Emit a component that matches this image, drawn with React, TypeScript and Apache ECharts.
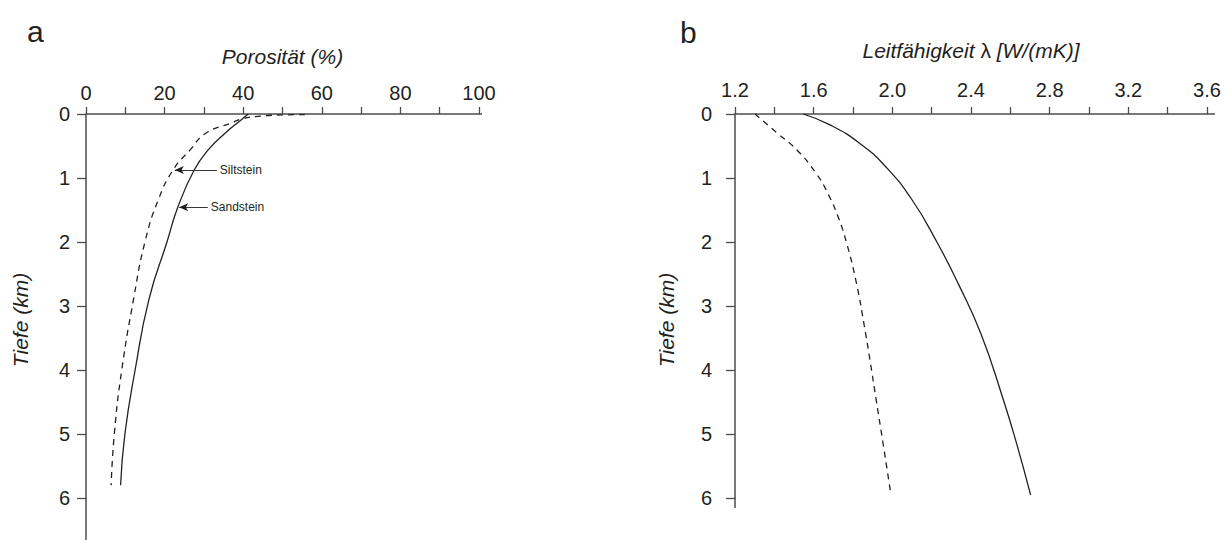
import React, { useEffect, useRef } from 'react';
import * as echarts from 'echarts';

// ---- Panel a: porosity vs depth ----
const sandPorosity = [41.3, 39.3, 35.4, 31.1, 27.5, 23.4, 20.6, 16.0, 12.5, 9.9, 8.8];
const sandDepthA = [0, 0.1, 0.3, 0.56, 0.88, 1.45, 2.0, 2.9, 4.0, 5.0, 5.8];
const siltPorosity = [55.7, 50, 45, 40, 37, 30.5, 26.5, 22.2, 18.4, 15.0, 12.2, 9.1, 7.2, 6.4];
const siltDepthA = [0.01, 0.015, 0.03, 0.07, 0.14, 0.3, 0.56, 0.87, 1.34, 2.0, 2.86, 4.0, 5.0, 5.8];

// ---- Panel b: thermal conductivity vs depth ----
const sandConductivity = [1.547, 1.683, 1.835, 1.965, 2.1, 2.23, 2.335, 2.45, 2.564, 2.632, 2.703];
const sandDepthB = [0, 0.17, 0.46, 0.82, 1.34, 2.02, 2.65, 3.43, 4.46, 5.15, 5.95];
const siltConductivity = [1.302, 1.415, 1.515, 1.612, 1.672, 1.727, 1.768, 1.818, 1.858, 1.886, 1.918, 1.953, 1.993];
const siltDepthB = [0, 0.3, 0.5625, 0.927, 1.24, 1.63, 2.02, 2.65, 3.32, 3.84, 4.47, 5.15, 5.95];

// ---- Annotations (panel a) ----
const annotationLabels = ['Siltstein', 'Sandstein'];
const annotationTail = [33.3, 31.0];
const annotationTip = [22.6, 23.7];
const annotationDepth = [0.875, 1.458];

const FONT = '"Liberation Sans", Arial, Helvetica, sans-serif';
const INK = '#231f20';
const AXIS = '#4f4b4c';

const zip = (xs: number[], ys: number[]) => xs.map((x, i) => [x, ys[i]]);

const arrow = (i: number) => ({
  silent: true,
  symbol: ['none', 'arrow'],
  symbolSize: [6, 9],
  lineStyle: { color: INK, width: 0.9, type: 'solid' },
  label: {
    show: true,
    position: 'start',
    distance: 3,
    formatter: annotationLabels[i],
    fontSize: 12,
    fontFamily: FONT,
    color: INK,
  },
  emphasis: { disabled: true },
  data: [[{ coord: [annotationTail[i], annotationDepth[i]] }, { coord: [annotationTip[i], annotationDepth[i]] }]],
});

const axisCommon = {
  axisLine: { show: true, onZero: false, lineStyle: { color: AXIS, width: 1.5 } },
  axisTick: { show: true, inside: false, lineStyle: { color: AXIS, width: 1.3 } },
  splitLine: { show: false },
};

const yName = {
  fontSize: 21,
  fontStyle: 'italic',
  color: INK,
  fontFamily: FONT,
  padding: [0, 28, 0, 0],
};

export default function App() {
  const ref = useRef<HTMLDivElement>(null);

  useEffect(() => {
    if (!ref.current) return;
    const chart = echarts.init(ref.current, undefined, { renderer: 'svg' });

    const option: any = {
      animation: false,
      backgroundColor: '#ffffff',
      textStyle: { fontFamily: FONT, color: INK },
      grid: [
        { left: 86, top: 114, width: 393, height: 384 },
        { left: 735, top: 114, width: 472, height: 384 },
      ],
      xAxis: [
        {
          ...axisCommon,
          type: 'value',
          gridIndex: 0,
          position: 'top',
          min: 0,
          max: 100,
          interval: 10,
          axisTick: { ...axisCommon.axisTick, length: 7 },
          axisLabel: {
            fontSize: 20,
            color: INK,
            fontFamily: FONT,
            margin: 11,
            formatter: (v: number) => (Math.round(v) % 20 === 0 ? String(Math.round(v)) : ''),
          },
          name: 'Porosität (%)',
          nameLocation: 'middle',
          nameGap: 47,
          nameTextStyle: { fontSize: 21, fontStyle: 'italic', color: INK, fontFamily: FONT },
        },
        {
          ...axisCommon,
          type: 'value',
          gridIndex: 1,
          position: 'top',
          min: 1.2,
          max: 3.6,
          interval: 0.2,
          axisTick: { ...axisCommon.axisTick, length: 7 },
          axisLabel: {
            fontSize: 20,
            color: INK,
            fontFamily: FONT,
            margin: 14,
            formatter: (v: number) => (Math.round((v - 1.2) / 0.2) % 2 === 0 ? v.toFixed(1) : ''),
          },
          name: 'Leitfähigkeit {l|λ} [W/(mK)]',
          nameLocation: 'middle',
          nameGap: 53,
          nameTextStyle: {
            fontSize: 21,
            fontStyle: 'italic',
            color: INK,
            fontFamily: FONT,
            rich: { l: { fontSize: 21, fontStyle: 'normal', color: INK, fontFamily: FONT } },
          },
        },
      ],
      yAxis: [
        {
          ...axisCommon,
          type: 'value',
          gridIndex: 0,
          inverse: true,
          min: 0,
          max: 6,
          interval: 1,
          axisTick: { ...axisCommon.axisTick, length: 9 },
          axisLabel: { fontSize: 20, color: INK, fontFamily: FONT, margin: 16 },
          name: 'Tiefe (km)',
          nameLocation: 'middle',
          nameGap: 55,
          nameTextStyle: yName,
        },
        {
          ...axisCommon,
          type: 'value',
          gridIndex: 1,
          inverse: true,
          min: 0,
          max: 6,
          interval: 1,
          axisTick: { ...axisCommon.axisTick, length: 9 },
          axisLabel: { fontSize: 20, color: INK, fontFamily: FONT, margin: 23 },
          name: 'Tiefe (km)',
          nameLocation: 'middle',
          nameGap: 58,
          nameTextStyle: yName,
        },
      ],
      series: [
        {
          name: 'Sandstein',
          type: 'line',
          xAxisIndex: 0,
          yAxisIndex: 0,
          data: zip(sandPorosity, sandDepthA),
          showSymbol: false,
          smooth: 0.5,
          lineStyle: { color: INK, width: 1.3, type: 'solid' },
          markLine: arrow(1),
        },
        {
          name: 'Siltstein',
          type: 'line',
          xAxisIndex: 0,
          yAxisIndex: 0,
          data: zip(siltPorosity, siltDepthA),
          showSymbol: false,
          smooth: 0.5,
          lineStyle: { color: INK, width: 1.3, type: [6, 5] },
          markLine: arrow(0),
        },
        {
          name: 'Sandstein λ',
          type: 'line',
          xAxisIndex: 1,
          yAxisIndex: 1,
          data: zip(sandConductivity, sandDepthB),
          showSymbol: false,
          smooth: 0.5,
          lineStyle: { color: INK, width: 1.3, type: 'solid' },
        },
        {
          name: 'Siltstein λ',
          type: 'line',
          xAxisIndex: 1,
          yAxisIndex: 1,
          data: zip(siltConductivity, siltDepthB),
          showSymbol: false,
          smooth: 0.5,
          lineStyle: { color: INK, width: 1.3, type: [6, 5] },
        },
      ],
      graphic: [
        {
          type: 'text',
          x: 27,
          y: 31.5,
          style: { text: 'a', fontSize: 30, fontFamily: FONT, fill: INK, verticalAlign: 'middle', align: 'left' },
        },
        {
          type: 'text',
          x: 680,
          y: 32,
          style: { text: 'b', fontSize: 30, fontFamily: FONT, fill: INK, verticalAlign: 'middle', align: 'left' },
        },
        // axis line extensions beyond the last tick
        { type: 'line', shape: { x1: 86, y1: 498, x2: 86, y2: 540 }, style: { stroke: AXIS, lineWidth: 1.5 } },
        { type: 'line', shape: { x1: 735, y1: 498, x2: 735, y2: 508 }, style: { stroke: AXIS, lineWidth: 1.5 } },
        { type: 'line', shape: { x1: 479, y1: 114, x2: 482, y2: 114 }, style: { stroke: AXIS, lineWidth: 1.5 } },
        { type: 'line', shape: { x1: 1207, y1: 114, x2: 1215, y2: 114 }, style: { stroke: AXIS, lineWidth: 1.5 } },
      ],
    };

    chart.setOption(option);
    return () => chart.dispose();
  }, []);

  return (
    <div
      ref={ref}
      style={{ position: 'absolute', left: 0, top: 0, width: 1231, height: 540, background: '#fff' }}
    />
  );
}
